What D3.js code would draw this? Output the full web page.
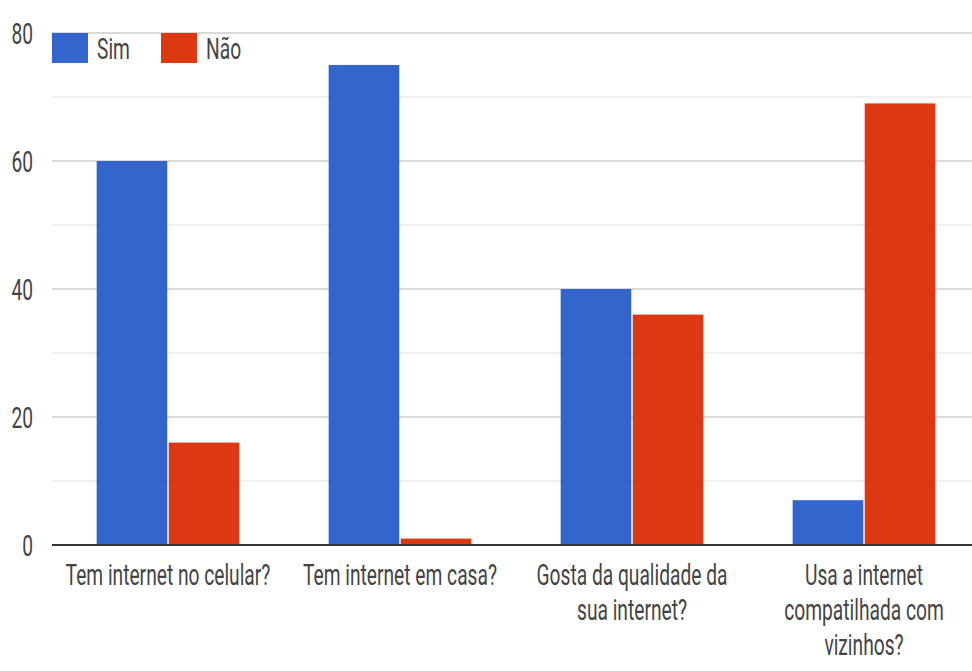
<!DOCTYPE html>
<html>
<head>
<meta charset="utf-8">
<script src="https://cdn.jsdelivr.net/npm/d3@7/dist/d3.min.js"></script>
<style>
  html, body { margin: 0; padding: 0; background: #fff; }
  svg { display: block; }
  text { font-family: Roboto, "Noto Sans", sans-serif; fill: #444; }
</style>
</head>
<body>
<svg id="chart" width="972" height="671"></svg>
<script>
const categories = [
  "Tem internet no celular?",
  "Tem internet em casa?",
  "Gosta da qualidade da sua internet?",
  "Usa a internet compatilhada com vizinhos?"
];
const seriesNames = ["Sim", "Não"];
const simValues = [60, 75, 40, 7];
const naoValues = [16, 1, 36, 69];
const majorTicks = [0, 20, 40, 60, 80];
const minorTicks = [10, 30, 50, 70];
const colors = ["#3366cc", "#dc3912"];

(function () {
const W = 972, H = 671;
const mLeft = 52, mRight = 980, mTop = 33, mBottom = 545;
const FS = 30, SX = 0.64; // condensed look
const svg = d3.select("#chart");

const y = d3.scaleLinear().domain([0, 80]).range([mBottom, mTop]);
const x0 = d3.scaleBand().domain(categories).range([mLeft, mRight]).paddingInner(0).paddingOuter(0);
const groupW = x0.bandwidth() * 0.615;
const x1 = d3.scaleBand().domain(seriesNames).range([0, groupW]).paddingInner(0.02);

// gridlines
svg.append("g").selectAll("line").data(minorTicks).join("line")
  .attr("x1", mLeft).attr("x2", W).attr("y1", d => y(d)).attr("y2", d => y(d))
  .attr("stroke", "#ebebeb").attr("stroke-width", 1.5);
svg.append("g").selectAll("line").data(majorTicks.filter(d => d !== 0)).join("line")
  .attr("x1", mLeft).attr("x2", W).attr("y1", d => y(d)).attr("y2", d => y(d))
  .attr("stroke", "#cccccc").attr("stroke-width", 1.5);

// y tick labels
svg.append("g").selectAll("text").data(majorTicks).join("text")
  .attr("transform", d => `translate(33,${y(d)}) scale(${SX},1)`)
  .attr("text-anchor", "end").attr("dy", "0.36em")
  .attr("font-size", FS).text(d => d);

// bars
const data = categories.map((c, i) => ({ cat: c, vals: [simValues[i], naoValues[i]] }));
const groups = svg.append("g").selectAll("g").data(data).join("g")
  .attr("transform", d => `translate(${x0(d.cat) + (x0.bandwidth() - groupW) / 2},0)`);
groups.selectAll("rect").data(d => d.vals.map((v, j) => ({ s: seriesNames[j], v, j }))).join("rect")
  .attr("x", d => x1(d.s)).attr("width", x1.bandwidth())
  .attr("y", d => y(d.v)).attr("height", d => y(0) - y(d.v))
  .attr("fill", d => colors[d.j]);

// baseline
svg.append("line").attr("x1", mLeft).attr("x2", W).attr("y1", y(0)).attr("y2", y(0))
  .attr("stroke", "#333").attr("stroke-width", 2);

// x labels with wrapping
const maxW = 218;
const xl = svg.append("g");
categories.forEach(c => {
  const cx = x0(c) + x0.bandwidth() / 2;
  const words = c.split(" ");
  const tmp = xl.append("text").attr("font-size", FS);
  const measure = s => { tmp.text(s); return tmp.node().getComputedTextLength() * SX; };
  const lines = [];
  let cur = "";
  words.forEach(w => {
    const t = cur ? cur + " " + w : w;
    if (measure(t) > maxW && cur) { lines.push(cur); cur = w; } else cur = t;
  });
  if (cur) lines.push(cur);
  tmp.remove();
  lines.forEach((ln, k) => {
    xl.append("text")
      .attr("transform", `translate(${cx},${585 + k * 35}) scale(${SX},1)`)
      .attr("text-anchor", "middle").attr("font-size", FS).text(ln);
  });
});

// legend
const leg = svg.append("g");
const legX = [52, 161];
seriesNames.forEach((s, i) => {
  leg.append("rect").attr("x", legX[i]).attr("y", 33).attr("width", 36).attr("height", 30).attr("fill", colors[i]);
  leg.append("text")
    .attr("transform", `translate(${legX[i] + 45},${48}) scale(${SX},1)`)
    .attr("dy", "0.36em").attr("font-size", FS).text(s);
});
})();
</script>
</body>
</html>
